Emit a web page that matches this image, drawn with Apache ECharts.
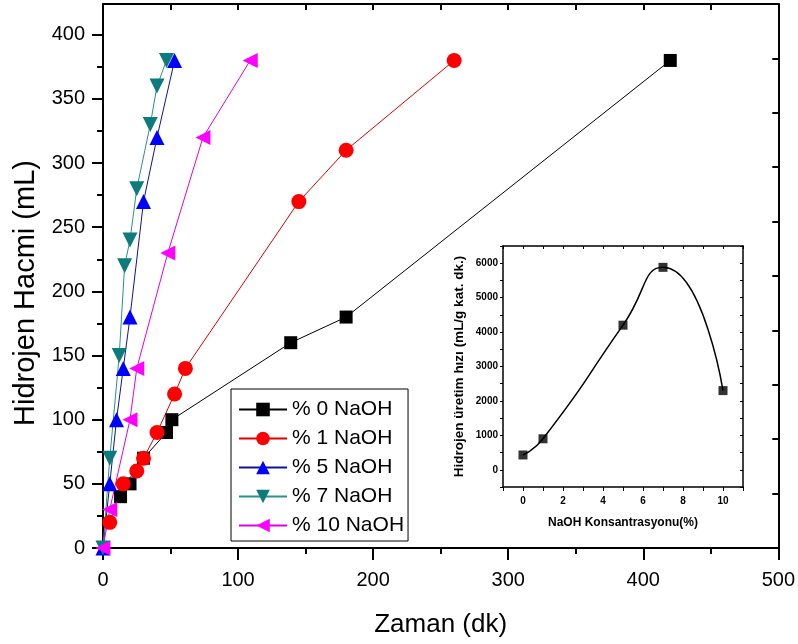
<!DOCTYPE html>
<html><head><meta charset="utf-8">
<script src="https://cdn.jsdelivr.net/npm/echarts@6/dist/echarts.min.js"></script>
<style>html,body{margin:0;padding:0;background:#fff}#c{width:798px;height:644px}</style>
</head><body><div id="c"></div>
<script>
// ---- data ----
const seriesNames = ['% 0 NaOH', '% 1 NaOH', '% 5 NaOH', '% 7 NaOH', '% 10 NaOH'];
const naoh0 = [[13,40],[20,50],[30,70],[47,90],[51,100],[139,160],[180,180],[420,380]];
const naoh1 = [[5,20],[15,50],[25,60],[30,70],[40,90],[53,120],[61,140],[145,270],[180,310],[260,380]];
const naoh5 = [[0,0],[5,50],[10,100],[15,140],[20,180],[30,270],[40,320],[53,380]];
const naoh7 = [[0,0],[5,70],[12,150],[16,220],[20,240],[25,280],[35,330],[40,360],[47,380]];
const naoh10 = [[0,0],[5,30],[20,100],[25,140],[48,230],[74,320],[109,380]];
const xTicks = [0,100,200,300,400,500];
const yTicks = [0,50,100,150,200,250,300,350,400];
const yMinorTicks = [25,75,125,175,225,275,325,375];
const insetConc = [0,1,5,7,10];
const insetRate = [430,900,4200,5880,2300];
const insetXTicks = [0,2,4,6,8,10];
const insetYTicks = [0,1000,2000,3000,4000,5000,6000];

const FONT = "'Liberation Sans',Arial,sans-serif";
const blk = '#000';
const plain = v => String(v);

const chart = echarts.init(document.getElementById('c'), null, {renderer:'canvas'});

function mainSeries(name, data, color, lineColor, symbol, size, rot) {
  return {
    name, type:'line', xAxisIndex:0, yAxisIndex:0, data,
    symbol, symbolSize:size, symbolRotate:rot || 0,
    itemStyle:{color, borderWidth:0},
    lineStyle:{color:lineColor, width:1},
    emphasis:{disabled:true}
  };
}

const option = {
  animation:false,
  backgroundColor:'#fff',
  grid:[
    {left:103, top:4, width:676, height:544},
    {left:503, top:246, width:240, height:241}
  ],
  legend:{
    orient:'vertical', left:231, top:389, data:seriesNames,
    itemWidth:48, itemHeight:17, itemGap:8, padding:[10,4,5,7],
    borderColor:'#000', borderWidth:1, backgroundColor:'#fff',
    textStyle:{fontSize:21, color:'#000', fontFamily:FONT}
  },
  xAxis:[
    {type:'value', gridIndex:0, min:0, max:500, interval:100, position:'bottom',
     axisLine:{onZero:false, lineStyle:{color:blk, width:2}},
     axisTick:{length:12, customValues:xTicks, lineStyle:{color:blk, width:2}},
     minorTick:{show:true, splitNumber:2, length:6, lineStyle:{color:blk, width:2}},
     axisLabel:{customValues:xTicks, formatter:plain, fontSize:20, color:blk, margin:22, fontFamily:FONT},
     splitLine:{show:false},
     name:'Zaman (dk)', nameLocation:'middle', nameGap:64,
     nameTextStyle:{fontSize:26, color:blk, fontFamily:FONT}},
    {type:'value', gridIndex:0, min:0, max:500, interval:50, position:'top',
     axisLine:{onZero:false, lineStyle:{color:blk, width:2}},
     axisTick:{inside:true, length:6, lineStyle:{color:blk, width:2}},
     axisLabel:{show:false}, splitLine:{show:false}},
    {type:'value', gridIndex:1, min:-1, max:11, interval:1, position:'bottom',
     axisLine:{onZero:false, lineStyle:{color:blk, width:1.5}},
     axisTick:{length:4, lineStyle:{color:blk, width:1}},
     axisLabel:{customValues:insetXTicks, formatter:plain, fontSize:10, fontWeight:'bold', color:blk, margin:9, fontFamily:FONT},
     splitLine:{show:false},
     name:'NaOH Konsantrasyonu(%)', nameLocation:'middle', nameGap:30,
     nameTextStyle:{fontSize:12, fontWeight:'bold', color:blk, fontFamily:FONT}},
    {type:'value', gridIndex:1, min:-1, max:11, interval:1, position:'top',
     axisLine:{onZero:false, lineStyle:{color:blk, width:1.5}},
     axisTick:{inside:true, length:3, lineStyle:{color:blk, width:1}},
     axisLabel:{show:false}, splitLine:{show:false}}
  ],
  yAxis:[
    {type:'value', gridIndex:0, min:0, max:424, position:'left',
     axisLine:{onZero:false, lineStyle:{color:blk, width:2}},
     axisTick:{length:11, customValues:yTicks, lineStyle:{color:blk, width:2}},
     axisLabel:{customValues:yTicks, formatter:plain, fontSize:20, color:blk, margin:18, fontFamily:FONT},
     splitLine:{show:false},
     name:'Hidrojen Hacmi (mL)', nameLocation:'middle', nameGap:60,
     nameTextStyle:{fontSize:29, color:blk, fontFamily:FONT, padding:[0,34,0,0]}},
    {type:'value', gridIndex:0, min:0, max:10, interval:1, position:'right',
     axisLine:{onZero:false, lineStyle:{color:blk, width:2}},
     axisTick:{inside:true, length:6, lineStyle:{color:blk, width:2}},
     axisLabel:{show:false}, splitLine:{show:false}},
    {type:'value', gridIndex:0, min:0, max:424, position:'left',
     axisLine:{show:false},
     axisTick:{length:6, customValues:yMinorTicks, lineStyle:{color:blk, width:2}},
     axisLabel:{show:false}, splitLine:{show:false}},
    {type:'value', gridIndex:1, min:-500, max:6500, interval:500, position:'left',
     axisLine:{onZero:false, lineStyle:{color:blk, width:1.5}},
     axisTick:{length:3, lineStyle:{color:blk, width:1}},
     axisLabel:{customValues:insetYTicks, formatter:plain, fontSize:10, fontWeight:'bold', color:blk, margin:5, fontFamily:FONT},
     splitLine:{show:false},
     name:'Hidrojen üretim hızı (mL/g kat. dk.)', nameLocation:'middle', nameGap:37,
     nameTextStyle:{fontSize:13.5, fontWeight:'bold', color:blk, fontFamily:FONT}},
    {type:'value', gridIndex:1, min:-500, max:6500, interval:500, position:'right',
     axisLine:{onZero:false, lineStyle:{color:blk, width:1.5}},
     axisTick:{inside:true, length:3, lineStyle:{color:blk, width:1}},
     axisLabel:{show:false}, splitLine:{show:false}}
  ],
  series:[
    mainSeries(seriesNames[0], naoh0, '#000000', '#000000', 'rect', 13),
    mainSeries(seriesNames[1], naoh1, '#ff0000', '#e00000', 'circle', 15),
    mainSeries(seriesNames[2], naoh5, '#0000ff', '#1010a0', 'triangle', 15),
    mainSeries(seriesNames[3], naoh7, '#0b7b7b', '#2a8f8f', 'triangle', 15, 180),
    mainSeries(seriesNames[4], naoh10, '#ff00ff', '#e000e0', 'triangle', 15, 90),
    {name:'curve', type:'line', xAxisIndex:2, yAxisIndex:3, smooth:0.6,
     data:insetConc.map((c,i)=>[c, insetRate[i]]), symbol:'none',
     lineStyle:{color:'#000', width:1.5}, emphasis:{disabled:true}},
    {name:'rate', type:'scatter', xAxisIndex:2, yAxisIndex:3,
     data:insetConc.map((c,i)=>[c, insetRate[i]]), symbol:'rect', symbolSize:9,
     itemStyle:{color:'#000'}, emphasis:{disabled:true}}
  ]
};
chart.setOption(option);
</script></body></html>
